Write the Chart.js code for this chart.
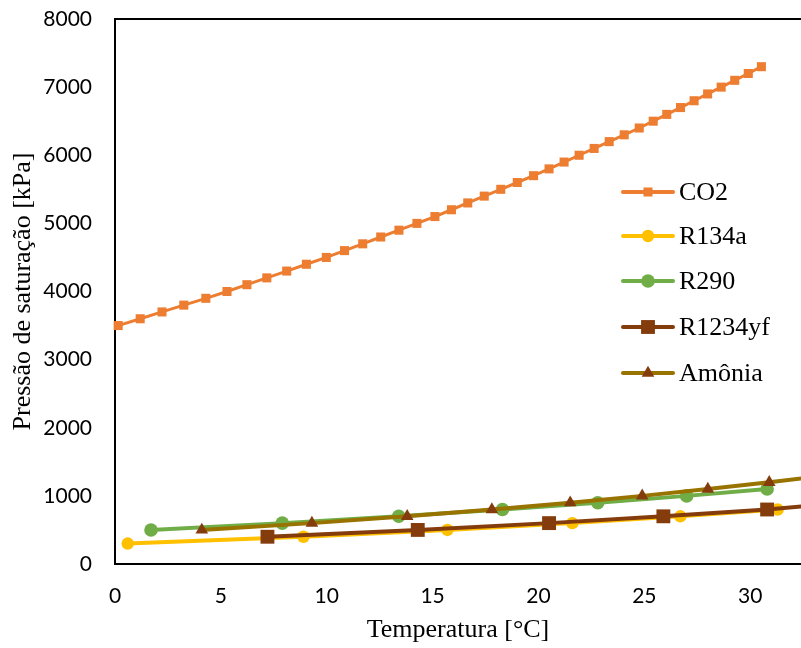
<!DOCTYPE html>
<html>
<head>
<meta charset="utf-8">
<script src="https://cdn.jsdelivr.net/npm/chart.js@4/dist/chart.umd.min.js"></script>
<style>
  html, body { margin: 0; padding: 0; background: #fff; }
</style>
</head>
<body>
<canvas id="chart" width="801" height="648"></canvas>
<script>
// Saturation data: temperature [°C] vs pressure [kPa]
const co2T = [0.15, 1.19, 2.22, 3.25, 4.29, 5.29, 6.23, 7.17, 8.11, 9.04, 9.98, 10.84, 11.70, 12.55, 13.41, 14.26,
              15.11, 15.89, 16.66, 17.44, 18.22, 19.00, 19.77, 20.50, 21.21, 21.92, 22.63, 23.34, 24.05, 24.76,
              25.42, 26.06, 26.71, 27.35, 27.99, 28.63, 29.27, 29.91, 30.53];
const co2P = [3500, 3600, 3700, 3800, 3900, 4000, 4100, 4200, 4300, 4400, 4500, 4600, 4700, 4800, 4900, 5000,
              5100, 5200, 5300, 5400, 5500, 5600, 5700, 5800, 5900, 6000, 6100, 6200, 6300, 6400,
              6500, 6600, 6700, 6800, 6900, 7000, 7100, 7200, 7300];

const r134aT = [0.6, 8.9, 15.7, 21.6, 26.7, 31.3];
const r134aP = [300, 400, 500, 600, 700, 800];

const r290T = [1.7, 7.9, 13.4, 18.3, 22.8, 27.0, 30.8];
const r290P = [500, 600, 700, 800, 900, 1000, 1100];

const r1234yfT = [7.2, 14.3, 20.5, 25.9, 30.8, 34.5];
const r1234yfP = [400, 500, 600, 700, 800, 900];

const amoniaT = [4.1, 9.3, 13.8, 17.8, 21.5, 24.9, 28.0, 30.9, 33.6];
const amoniaP = [500, 600, 700, 800, 900, 1000, 1100, 1200, 1300];

const xTicks = [0, 5, 10, 15, 20, 25, 30];
const yTicks = [0, 1000, 2000, 3000, 4000, 5000, 6000, 7000, 8000];

function pairs(xs, ys) {
    return xs.map((x, i) => ({ x: x, y: ys[i] }));
}

// legend rows (y of each entry), drawn inside the plot like the original
const legendRows = [192, 236, 281, 327, 373];

const sideLegend = {
    id: 'sideLegend',
    afterDraw(chart) {
        const ctx = chart.ctx;
        chart.data.datasets.forEach((ds, i) => {
            const y = legendRows[i];
            ctx.save();
            ctx.strokeStyle = ds.borderColor;
            ctx.lineWidth = 4;
            ctx.lineCap = 'round';
            ctx.beginPath();
            ctx.moveTo(623, y);
            ctx.lineTo(673, y);
            ctx.stroke();
            ctx.fillStyle = ds.pointBackgroundColor;
            Chart.helpers.drawPoint(ctx, { pointStyle: ds.pointStyle, radius: ds.pointRadius, borderWidth: 0, rotation: 0 }, 648, y);
            ctx.fillStyle = '#000';
            ctx.font = '26px "Liberation Serif"';
            ctx.textBaseline = 'middle';
            ctx.textAlign = 'left';
            ctx.fillText(ds.label, 679, y + 1);
            ctx.restore();
        });
    }
};

// top border of the plot area
const topBorder = {
    id: 'topBorder',
    afterDraw(chart) {
        const { ctx, chartArea } = chart;
        ctx.save();
        ctx.strokeStyle = '#000';
        ctx.lineWidth = 2;
        ctx.beginPath();
        ctx.moveTo(chartArea.left - 1, chartArea.top);
        ctx.lineTo(chartArea.right, chartArea.top);
        ctx.stroke();
        ctx.restore();
    }
};

const noClip = { left: false, top: false, right: 0, bottom: false };

const ctx = document.getElementById('chart').getContext('2d');
const chart = new Chart(ctx, {
    type: 'scatter',
    data: {
        datasets: [
            {
                label: 'CO2', data: pairs(co2T, co2P), showLine: true, order: 5,
                borderColor: '#ED7D31', borderWidth: 3, borderCapStyle: 'round',
                pointStyle: 'rect', pointRadius: 6.4, pointBackgroundColor: '#ED7D31', pointBorderWidth: 0,
                clip: noClip
            },
            {
                label: 'R134a', data: pairs(r134aT, r134aP), showLine: true, order: 4,
                borderColor: '#FFC000', borderWidth: 4, borderCapStyle: 'round',
                pointStyle: 'circle', pointRadius: 6.2, pointBackgroundColor: '#FFC000', pointBorderWidth: 0,
                clip: noClip
            },
            {
                label: 'R290', data: pairs(r290T, r290P), showLine: true, order: 3,
                borderColor: '#70AD47', borderWidth: 4, borderCapStyle: 'round',
                pointStyle: 'circle', pointRadius: 6.8, pointBackgroundColor: '#70AD47', pointBorderWidth: 0,
                clip: noClip
            },
            {
                label: 'R1234yf', data: pairs(r1234yfT, r1234yfP), showLine: true, order: 2,
                borderColor: '#843C0C', borderWidth: 4, borderCapStyle: 'round',
                pointStyle: 'rect', pointRadius: 9.8, pointBackgroundColor: '#843C0C', pointBorderWidth: 0,
                clip: noClip
            },
            {
                label: 'Amônia', data: pairs(amoniaT, amoniaP), showLine: true, order: 1,
                borderColor: '#997300', borderWidth: 4, borderCapStyle: 'round',
                pointStyle: 'triangle', pointRadius: 7.3, pointBackgroundColor: '#843C0C', pointBorderWidth: 0,
                clip: noClip
            }
        ]
    },
    options: {
        responsive: false,
        animation: false,
        layout: { autoPadding: false, padding: { top: 19, right: 0, left: 0, bottom: 0 } },
        plugins: {
            legend: { display: false },
            tooltip: { enabled: false }
        },
        scales: {
            x: {
                type: 'linear', min: 0, max: 32.4,
                afterBuildTicks: s => { s.ticks = xTicks.map(v => ({ value: v })); },
                afterFit: s => {
                    s.height = 84;
                    s.paddingLeft = 0;
                    s.paddingRight = 0;
                },
                grid: { display: false, drawTicks: false },
                border: { display: true, color: '#000', width: 2 },
                ticks: { font: { family: 'Lato', size: 21 }, color: '#000', padding: 20 },
                title: {
                    display: true, text: 'Temperatura [°C]', color: '#000',
                    font: { family: 'Liberation Serif', size: 26 },
                    padding: { top: 0, bottom: 2 }
                }
            },
            y: {
                type: 'linear', min: 0, max: 8000,
                afterBuildTicks: s => { s.ticks = yTicks.map(v => ({ value: v })); },
                afterFit: s => {
                    s.width = 115;
                    s.paddingTop = 0;
                    s.paddingBottom = 0;
                },
                grid: { display: false, drawTicks: false },
                border: { display: true, color: '#000', width: 2 },
                ticks: {
                    font: { family: 'Lato', size: 21 }, color: '#000', padding: 23,
                    callback: v => String(v)
                },
                title: {
                    display: true, text: 'Pressão de saturação [kPa]', color: '#000',
                    font: { family: 'Liberation Serif', size: 26 },
                    padding: { top: 8, bottom: 0 }
                }
            }
        }
    },
    plugins: [sideLegend, topBorder]
});
</script>
</body>
</html>
